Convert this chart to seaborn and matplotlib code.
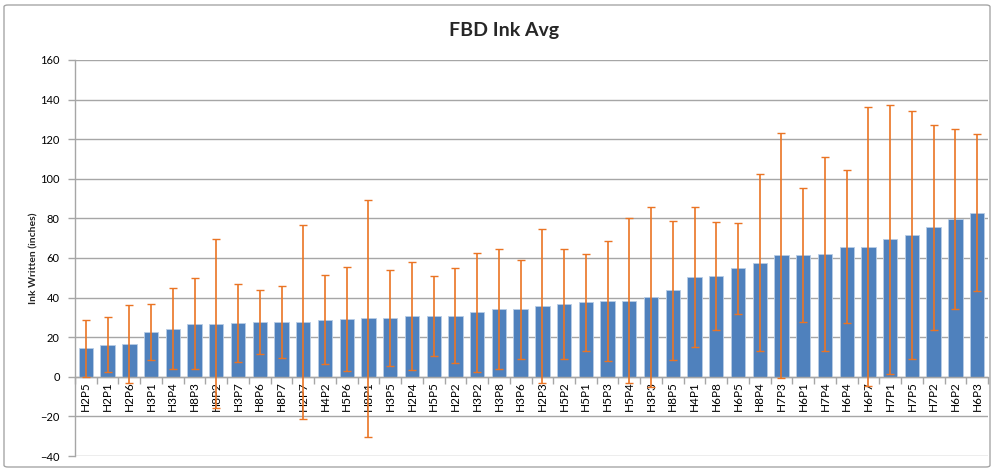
import matplotlib
matplotlib.use("Agg")
import matplotlib.pyplot as plt
import seaborn as sns
import pandas as pd
import numpy as np
from matplotlib.patches import FancyBboxPatch

categories = ["H2P5", "H2P1", "H2P6", "H3P1", "H3P4", "H8P3", "H8P2", "H3P7", "H8P6", "H8P7",
              "H2P7", "H4P2", "H5P6", "H8P1", "H3P5", "H2P4", "H5P5", "H2P2", "H3P2", "H3P8",
              "H3P6", "H2P3", "H5P2", "H5P1", "H5P3", "H5P4", "H3P3", "H8P5", "H4P1", "H6P8",
              "H6P5", "H8P4", "H7P3", "H6P1", "H7P4", "H6P4", "H6P7", "H7P1", "H7P5", "H7P2",
              "H6P2", "H6P3"]
avg = [14.3, 16.2, 16.4, 22.7, 24.3, 26.7, 26.8, 27.0, 27.5, 27.6,
       27.9, 28.8, 29.0, 29.5, 29.7, 30.6, 30.7, 30.9, 32.6, 34.0,
       34.2, 35.8, 36.9, 37.7, 38.2, 38.5, 40.3, 43.7, 50.4, 51.1,
       54.8, 57.7, 61.3, 61.6, 61.9, 65.8, 65.8, 69.4, 71.6, 75.6,
       79.8, 82.9]
err = [14.6, 14.0, 19.7, 14.3, 20.3, 23.0, 42.8, 19.7, 16.2, 18.3,
       49.0, 22.5, 26.3, 59.7, 24.0, 27.3, 20.0, 23.8, 30.0, 30.3,
       25.0, 38.8, 27.8, 24.5, 30.2, 41.5, 45.5, 35.0, 35.2, 27.3,
       23.0, 44.7, 61.7, 33.7, 49.0, 38.8, 70.5, 68.0, 62.7, 51.8,
       45.5, 39.8]

df = pd.DataFrame({"cat": categories, "avg": avg, "err": err})

sns.set_theme(style="white")
plt.rcParams["font.family"] = ["Lato", "DejaVu Sans"]

fig = plt.figure(figsize=(9.92, 4.69), dpi=100)
ax = fig.add_axes([75 / 992, 13 / 469, 913 / 992, 396 / 469])

sns.barplot(data=df, x="cat", y="avg", color="#4F81BD", saturation=1, width=0.66,
            edgecolor="#B9CDE5", linewidth=0.6, ax=ax, errorbar=None)
ax.errorbar(np.arange(len(categories)), df["avg"], yerr=df["err"], fmt="none",
            ecolor="#EA7424", elinewidth=1.2, capsize=3, capthick=1.0, zorder=5)

ax.set_ylim(-40, 160)
ax.set_xlim(-0.5, len(categories) - 0.5)
ax.set_yticks(range(-40, 161, 20))
ax.yaxis.grid(True, color="#A6A6A6", linewidth=1.0)
ax.set_axisbelow(True)

for s in ["top", "right"]:
    ax.spines[s].set_visible(False)
ax.spines["left"].set_color("#A6A6A6")
ax.spines["left"].set_linewidth(1.0)
ax.spines["bottom"].set_position(("data", 0))
ax.spines["bottom"].set_color("#A6A6A6")
ax.spines["bottom"].set_linewidth(1.0)

ax.set_xticks(np.arange(len(categories)))
ax.set_xticklabels(categories, rotation=90, fontsize=8.5, color="#000000")
ax.tick_params(axis="x", which="major", length=0, pad=3)
ax.set_xticks(np.arange(len(categories) + 1) - 0.5, minor=True)
ax.tick_params(axis="x", which="minor", length=5, color="#A6A6A6", width=1, direction="out", bottom=True)
ax.tick_params(axis="y", length=5, color="#A6A6A6", width=1, direction="out", left=True, labelsize=8, pad=6)
for lbl in ax.get_yticklabels():
    lbl.set_color("#000000")

ax.set_xlabel("")
ax.set_ylabel("Ink Written (inches)", fontsize=7.5, fontweight="bold", labelpad=1)

fig.text(0.508, 0.935, "FBD Ink Avg", ha="center", va="center", fontsize=14, fontweight="bold")

border = FancyBboxPatch((4 / 992, 2 / 469), 986 / 992, 462 / 469, boxstyle="round,pad=0,rounding_size=0.004",
                        transform=fig.transFigure, fill=False, edgecolor="#A6A6A6", linewidth=1.0)
fig.patches.append(border)

fig.savefig("out.png", dpi=100)
